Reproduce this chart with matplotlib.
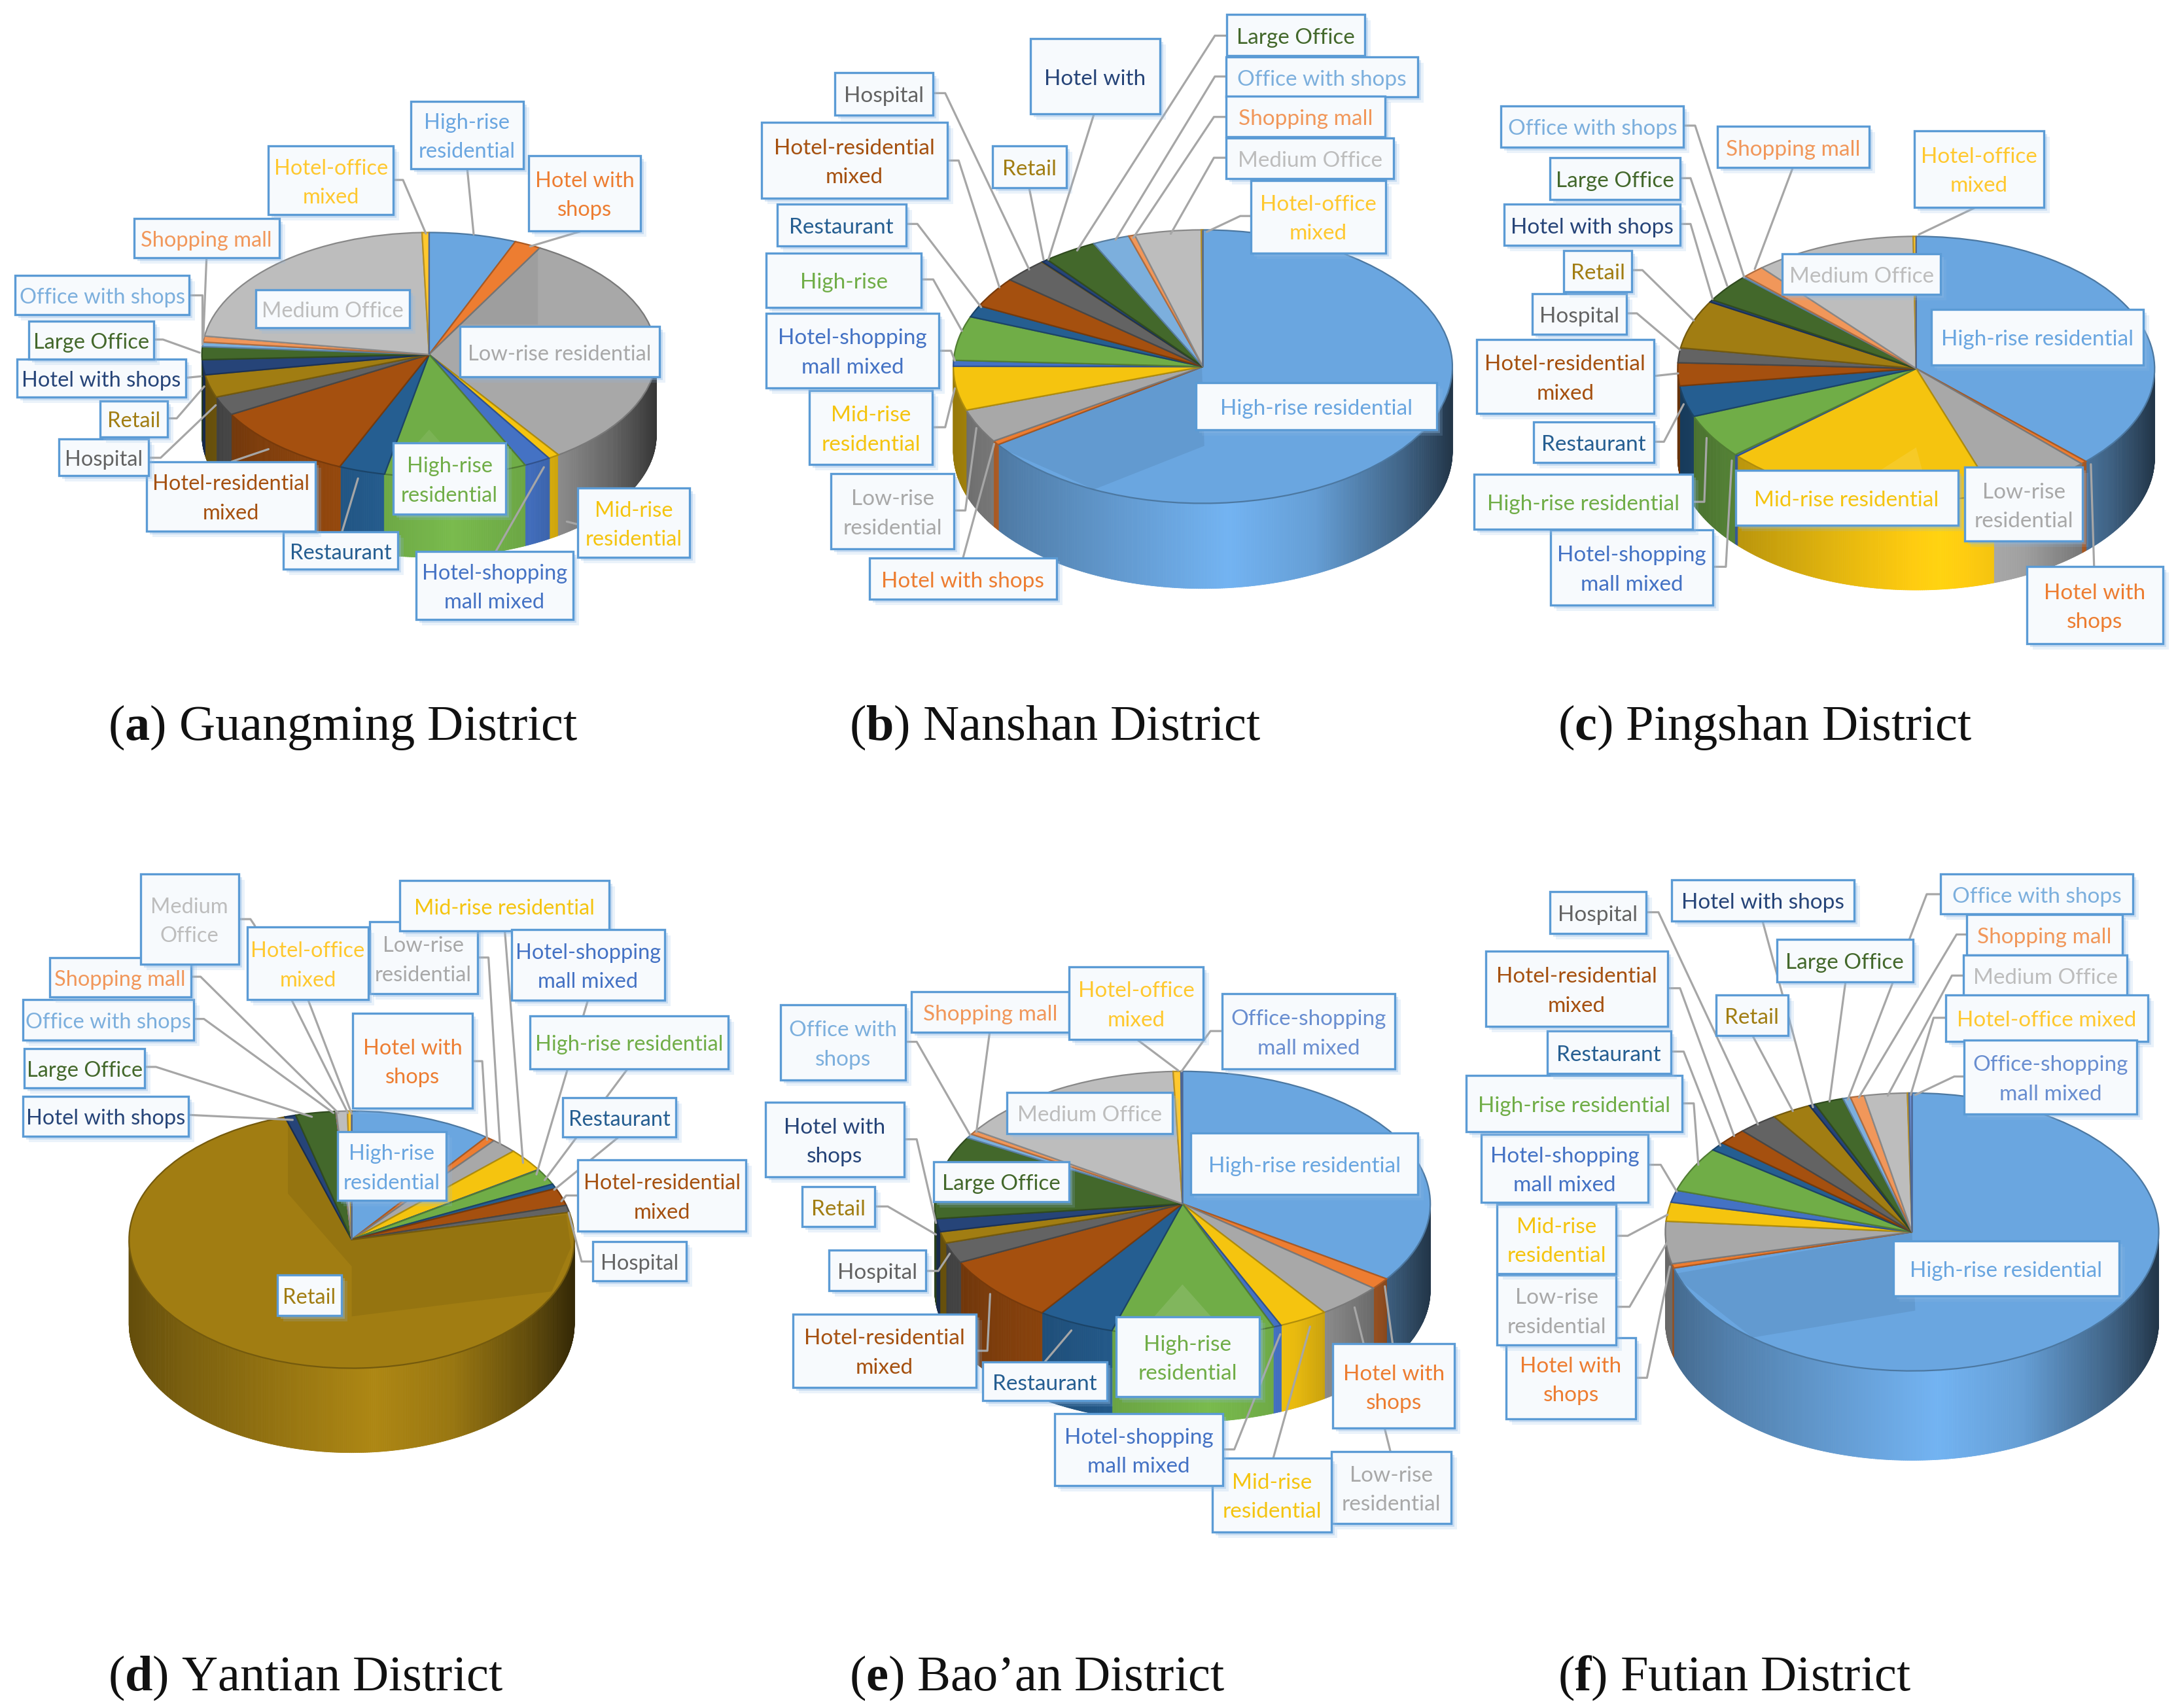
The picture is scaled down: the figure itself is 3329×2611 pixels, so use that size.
"""
Six 3D-look pie charts of building types per Shenzhen district, with callout
labels. Coordinates in the layout tables are read from crops of the original,
so each panel carries its own crop offset and x/y scale.
"""

import numpy as np
import matplotlib
matplotlib.use("Agg")
import matplotlib.pyplot as plt
from matplotlib.collections import PolyCollection
from matplotlib.colors import to_rgb
from matplotlib.patches import Ellipse, Polygon, Rectangle

W, H = 3329, 2611

plt.rcParams['mathtext.fontset'] = 'custom'
plt.rcParams['mathtext.bf'] = 'Liberation Serif:bold'
plt.rcParams['mathtext.rm'] = 'Liberation Serif'

# ---------------------------------------------------------------
# DATA
# ---------------------------------------------------------------
categories = ['High-rise residential', 'Hotel with shops', 'Low-rise residential',
              'Mid-rise residential', 'Hotel-shopping mall mixed', 'High-rise residential 2',
              'Restaurant', 'Hotel-residential mixed', 'Hospital', 'Retail',
              'Hotel with shops 2', 'Large Office', 'Office with shops', 'Shopping mall',
              'Medium Office', 'Hotel-office mixed', 'Office-shopping mall mixed']

colors = ['#6AA6E0', '#ED7D31', '#A8A8A8', '#F5C40F', '#4472C4', '#70AD47',
          '#255E91', '#A5500F', '#636363', '#A17D12', '#264478', '#43682B',
          '#7CAFDD', '#F1975A', '#BDBDBD', '#FFC82E', '#698ED0']

guangming = [6.2, 1.9, 32.3, 0.8, 1.9, 10.1, 3.3, 10.4, 2.5, 3.0, 2.0, 1.7, 0.6, 0.8, 22.1, 0.5, 0.0]
nanshan = [65.3, 0.5, 4.0, 5.2, 0.7, 5.2, 1.4, 3.6, 2.9, 0.05, 0.4, 3.5, 2.4, 0.4, 4.3, 0.1, 0.0]
pingshan = [37.4, 0.4, 6.9, 18.8, 0.2, 5.4, 3.8, 2.8, 1.8, 5.9, 0.3, 3.4, 0.2, 1.5, 11.0, 0.2, 0.0]
yantian = [10.3, 0.7, 1.9, 2.9, 0.05, 2.0, 0.6, 2.2, 0.9, 73.4, 0.8, 2.9, 0.02, 0.02, 0.8, 0.3, 0.0]
baoan = [34.6, 1.4, 4.3, 3.2, 0.5, 10.6, 5.0, 8.1, 2.5, 1.4, 1.6, 10.1, 0.5, 0.5, 15.1, 0.5, 0.1]
futian = [70.6, 0.5, 4.9, 2.2, 1.4, 5.2, 1.0, 1.9, 2.6, 2.6, 0.4, 1.9, 0.5, 0.9, 2.8, 0.1, 0.2]

# ---------------------------------------------------------------
# LAYOUT (crop coordinates)
# ---------------------------------------------------------------
# each label: category index, text, box (x0, y0, x1, y1), leader polyline or None
labels_a = [
    (0, 'High-rise\nresidential', (895, 95, 1140, 275), [(1018, 275), (1032, 450)]),
    (1, 'Hotel with\nshops', (1152, 240, 1395, 440), [(1270, 440), (1155, 482)]),
    (2, 'Low-rise residential', (1002, 695, 1437, 830), None),
    (3, 'Mid-rise\nresidential', (1258, 1125, 1503, 1310), [(1258, 1222), (1235, 1215)]),
    (4, 'Hotel-shopping\nmall mixed', (907, 1295, 1248, 1475), [(1080, 1295), (1185, 1070)]),
    (5, 'High-rise\nresidential', (857, 1005, 1102, 1195), None),
    (6, 'Restaurant', (617, 1243, 867, 1342), [(745, 1243), (780, 1100)]),
    (7, 'Hotel-residential\nmixed', (320, 1055, 687, 1240), [(505, 1055), (585, 1022)]),
    (8, 'Hospital', (128, 995, 323, 1092), [(323, 1045), (350, 1045), (470, 905)]),
    (9, 'Retail', (218, 893, 365, 990), [(365, 940), (385, 940), (445, 855)]),
    (10, 'Hotel with shops', (37, 782, 405, 883), [(405, 832), (438, 828)]),
    (11, 'Large Office', (63, 682, 335, 782), [(335, 730), (355, 730), (435, 765)]),
    (12, 'Office with shops', (33, 560, 412, 664), [(412, 612), (440, 612), (440, 742)]),
    (13, 'Shopping mall', (292, 408, 608, 512), [(450, 512), (443, 725)]),
    (14, 'Medium Office', (558, 597, 892, 698), None),
    (15, 'Hotel-office\nmixed', (585, 215, 857, 398), [(857, 305), (878, 305), (928, 448)]),
]
labels_b = [
    (0, 'High-rise residential', (992, 965, 1495, 1085), None),
    (1, 'Hotel with shops', (312, 1408, 702, 1512), [(507, 1408), (572, 1120)]),
    (2, 'Low-rise\nresidential', (232, 1195, 488, 1385), [(488, 1288), (512, 1288), (535, 1080)]),
    (3, 'Mid-rise\nresidential', (187, 985, 443, 1172), [(443, 1078), (470, 1078), (490, 980)]),
    (4, 'Hotel-shopping\nmall mixed', (97, 790, 457, 978), [(457, 885), (482, 885), (490, 910)]),
    (5, 'High-rise', (97, 638, 420, 775), [(420, 705), (445, 705), (505, 835)]),
    (6, 'Restaurant', (120, 515, 388, 620), [(388, 565), (412, 565), (545, 775)]),
    (7, 'Hotel-residential\nmixed', (87, 308, 475, 500), [(475, 405), (498, 405), (583, 725)]),
    (8, 'Hospital', (240, 183, 445, 290), [(445, 235), (470, 235), (645, 680)]),
    (9, 'Retail', (568, 368, 722, 474), [(645, 474), (675, 655)]),
    (10, 'Hotel with', (647, 97, 917, 288), [(780, 288), (685, 655)]),
    (11, 'Large Office', (1057, 37, 1345, 140), [(1057, 90), (1032, 90), (745, 632)]),
    (12, 'Office with shops', (1055, 143, 1455, 245), [(1055, 193), (1032, 193), (825, 605)]),
    (13, 'Shopping mall', (1055, 243, 1387, 345), [(1055, 295), (1030, 295), (862, 600)]),
    (14, 'Medium Office', (1055, 348, 1405, 450), [(1055, 398), (1030, 398), (940, 590)]),
    (15, 'Hotel-office\nmixed', (1107, 455, 1388, 638), [(1107, 545), (1085, 545), (1015, 585)]),
]
labels_c = [
    (0, 'High-rise residential', (1030, 597, 1493, 745), None),
    (1, 'Hotel with\nshops', (1238, 1283, 1535, 1488), [(1385, 1283), (1378, 1010)]),
    (2, 'Low-rise\nresidential', (1103, 1018, 1360, 1215), None),
    (3, 'Mid-rise residential', (603, 1027, 1088, 1172), None),
    (4, 'Hotel-shopping\nmall mixed', (200, 1185, 553, 1385), [(553, 1283), (582, 1283), (595, 1000)]),
    (5, 'High-rise residential', (33, 1037, 510, 1183), [(510, 1110), (535, 1110), (540, 940)]),
    (6, 'Restaurant', (163, 897, 425, 1005), [(425, 950), (447, 950), (490, 850)]),
    (7, 'Hotel-residential\nmixed', (38, 678, 425, 875), [(425, 775), (478, 768)]),
    (8, 'Hospital', (160, 555, 365, 663), [(365, 608), (388, 608), (482, 705)]),
    (9, 'Retail', (228, 440, 377, 550), [(377, 493), (400, 493), (512, 627)]),
    (10, 'Hotel with shops', (98, 317, 482, 427), [(482, 370), (505, 370), (553, 570)]),
    (11, 'Large Office', (198, 193, 482, 305), [(482, 248), (505, 248), (585, 535)]),
    (12, 'Office with shops', (92, 55, 490, 165), [(490, 108), (515, 108), (622, 512)]),
    (13, 'Shopping mall', (563, 110, 895, 220), [(728, 220), (645, 490)]),
    (14, 'Medium Office', (705, 450, 1050, 558), None),
    (15, 'Hotel-office\nmixed', (993, 122, 1275, 325), [(1128, 325), (1003, 398)]),
]
labels_d = [
    (0, 'High-rise\nresidential', (703, 698, 930, 878), None),
    (1, 'Hotel with\nshops', (735, 390, 985, 637), [(985, 515), (1005, 515), (1015, 720)]),
    (2, 'Low-rise\nresidential', (770, 152, 995, 340), [(995, 245), (1018, 245), (1042, 735)]),
    (3, 'Mid-rise residential', (833, 45, 1270, 175), [(1052, 175), (1090, 780)]),
    (4, 'Hotel-shopping\nmall mixed', (1066, 172, 1385, 357), [(1225, 357), (1118, 810)]),
    (5, 'High-rise residential', (1105, 397, 1517, 535), [(1308, 535), (1135, 825)]),
    (6, 'Restaurant', (1173, 610, 1408, 712), [(1290, 712), (1155, 850)]),
    (7, 'Hotel-residential\nmixed', (1204, 772, 1555, 958), [(1204, 865), (1180, 865), (1170, 880)]),
    (8, 'Hospital', (1235, 985, 1430, 1087), [(1235, 1037), (1212, 1037), (1185, 910)]),
    (9, 'Retail', (578, 1072, 712, 1178), None),
    (10, 'Hotel with shops', (48, 607, 393, 710), [(393, 655), (610, 668)]),
    (11, 'Large Office', (50, 483, 302, 585), [(302, 530), (325, 530), (650, 660)]),
    (12, 'Office with shops', (48, 355, 403, 460), [(403, 405), (425, 405), (695, 650)]),
    (13, 'Shopping mall', (103, 245, 398, 347), [(398, 295), (418, 295), (705, 650)]),
    (14, 'Medium\nOffice', (293, 28, 497, 262), [(497, 145), (522, 145), (530, 160), (725, 650)]),
    (15, 'Hotel-office\nmixed', (515, 165, 768, 355), [(642, 355), (733, 652)]),
]
labels_e = [
    (0, 'High-rise residential', (955, 480, 1450, 640), None),
    (1, 'Hotel with\nshops', (1265, 1030, 1530, 1250), [(1395, 1030), (1378, 880)]),
    (2, 'Low-rise\nresidential', (1262, 1310, 1522, 1498), [(1390, 1310), (1312, 935)]),
    (3, 'Mid-rise\nresidential', (1002, 1327, 1262, 1520), [(1135, 1327), (1215, 985)]),
    (4, 'Hotel-shopping\nmall mixed', (658, 1212, 1025, 1400), [(1025, 1305), (1050, 1305), (1150, 1005)]),
    (5, 'High-rise\nresidential', (792, 960, 1105, 1168), None),
    (6, 'Restaurant', (502, 1077, 772, 1178), [(637, 1077), (695, 995)]),
    (7, 'Hotel-residential\nmixed', (88, 952, 487, 1143), [(487, 1048), (512, 1048), (518, 900)]),
    (8, 'Hospital', (167, 785, 378, 892), [(378, 840), (405, 840), (430, 795)]),
    (9, 'Retail', (108, 620, 267, 725), [(267, 672), (295, 672), (400, 745)]),
    (10, 'Hotel with\nshops', (28, 400, 330, 595), [(330, 497), (358, 497), (400, 715)]),
    (11, 'Large Office', (395, 555, 690, 660), None),
    (12, 'Office with\nshops', (62, 147, 333, 342), [(333, 243), (358, 243), (475, 487)]),
    (13, 'Shopping mall', (347, 112, 690, 218), [(517, 218), (488, 478)]),
    (14, 'Medium Office', (555, 375, 915, 482), None),
    (15, 'Hotel-office\nmixed', (690, 47, 982, 237), [(838, 237), (928, 318)]),
    (16, 'Office-shopping\nmall mixed', (1024, 118, 1400, 313), [(1024, 215), (998, 215), (935, 320)]),
]
labels_f = [
    (0, 'High-rise residential', (947, 983, 1440, 1127), None),
    (1, 'Hotel with\nshops', (103, 1235, 385, 1447), [(385, 1340), (410, 1340), (460, 1050)]),
    (2, 'Low-rise\nresidential', (83, 1072, 343, 1255), [(343, 1155), (372, 1155), (455, 985)]),
    (3, 'Mid-rise\nresidential', (83, 888, 343, 1068), [(343, 970), (368, 970), (455, 915)]),
    (4, 'Hotel-shopping\nmall mixed', (48, 705, 413, 883), [(413, 785), (440, 785), (475, 855)]),
    (5, 'High-rise residential', (15, 553, 487, 698), [(487, 625), (512, 625), (522, 785)]),
    (6, 'Restaurant', (192, 437, 462, 547), [(462, 490), (490, 490), (570, 735)]),
    (7, 'Hotel-residential\nmixed', (58, 228, 455, 425), [(455, 325), (482, 325), (600, 710)]),
    (8, 'Hospital', (198, 73, 408, 183), [(408, 127), (435, 127), (652, 680)]),
    (9, 'Retail', (560, 342, 717, 448), [(640, 448), (728, 645)]),
    (10, 'Hotel with shops', (463, 42, 862, 150), [(662, 150), (772, 635)]),
    (11, 'Large Office', (693, 198, 990, 308), [(843, 308), (808, 620)]),
    (12, 'Office with shops', (1050, 27, 1470, 132), [(1050, 80), (1020, 80), (848, 615)]),
    (13, 'Shopping mall', (1107, 133, 1447, 238), [(1107, 185), (1085, 185), (872, 610)]),
    (14, 'Medium Office', (1100, 238, 1457, 345), [(1100, 292), (1075, 292), (935, 605)]),
    (15, 'Hotel-office mixed', (1062, 343, 1502, 463), [(1062, 402), (1035, 402), (985, 603)]),
    (16, 'Office-shopping\nmall mixed', (1102, 460, 1478, 653), [(1102, 555), (1080, 555), (995, 603)]),
]

# overlay polygons for the lighting on the top face: (points, colour, alpha)
light_a = [([(935, 770), (1172, 490), (1172, 690), (1000, 690)], 'black', 0.06),
           ([(935, 970), (870, 1060), (1000, 1060)], 'white', 0.08)]
light_b = [([(1005, 925), (575, 1125), (780, 1235), (1010, 1125)], 'black', 0.07)]
light_c = [([(997, 965), (920, 1025), (1010, 1025)], 'white', 0.10)]
light_d = [([(600, 670), (600, 860), (733, 1050), (733, 1180), (1150, 1115),
             (1190, 1000), (1180, 915), (733, 980)], 'black', 0.07)]
light_e = [([(937, 875), (860, 980), (1015, 980)], 'white', 0.12)]
light_f = [([(988, 960), (465, 1070), (640, 1235), (995, 1165)], 'black', 0.07)]

panels = [
    dict(values=guangming, labels=labels_a, light=light_a, crop=(0, 100, 1568 / 1100, 1568 / 900),
         pie=(935, 770, 495, 325, 215), fs=23.5),
    dict(values=nanshan, labels=labels_b, light=light_b, crop=(1100, 0, 1568 / 1150, 1568 / 950),
         pie=(1007, 925, 520, 345, 215), fs=24.0),
    dict(values=pingshan, labels=labels_c, light=light_c, crop=(2230, 130, 1568 / 1099, 1568 / 900),
         pie=(997, 755, 520, 352, 238), fs=24.0),
    dict(values=yantian, labels=labels_d, light=light_d, crop=(0, 1320, 1568 / 1150, 1568 / 920),
         pie=(733, 980, 464, 335, 220), fs=23.5),
    dict(values=baoan, labels=labels_e, light=light_e, crop=(1150, 1450, 1568 / 1100, 1568 / 920),
         pie=(937, 665, 540, 345, 225), fs=24.0),
    dict(values=futian, labels=labels_f, light=light_f, crop=(2230, 1320, 1568 / 1099, 1568 / 920),
         pie=(988, 960, 538, 362, 233), fs=24.0),
]

captions = [('a', 'Guangming District', 165, 1112), ('b', 'Nanshan District', 1298, 1112),
            ('c', 'Pingshan District', 2381, 1112), ('d', 'Yantian District', 165, 2565),
            ('e', "Bao\u2019an District", 1298, 2565), ('f', 'Futian District', 2381, 2565)]


def shade(color, factor):
    return tuple(np.clip(np.array(to_rgb(color)) * factor, 0, 1))


def draw_pie(fig, panel):
    ox, oy, sx, sy = panel['crop']
    zx, zy, za, zb, zwall = panel['pie']
    cx, cy, a, b = ox + zx / sx, oy + zy / sy, za / sx, zb / sy
    wall = zwall / sy / b
    pad = 1.03

    left = (cx - pad * a) / W
    bottom = 1 - (cy + (pad + wall) * b) / H
    ax = fig.add_axes([left, bottom, 2 * pad * a / W, (2 * pad + wall) * b / H], zorder=1)

    values = np.array(panel['values'], dtype=float)
    wedges, _ = ax.pie(values, colors=colors, startangle=90, counterclock=False)
    for w, c in zip(wedges, colors):
        w.set_edgecolor(shade(c, 0.72))
        w.set_linewidth(1.6)
        w.set_zorder(3)
    ax.set_aspect('auto')
    ax.set_xlim(-pad, pad)
    ax.set_ylim(-pad - wall, pad)

    # front wall built from thin vertical strips, shaded by x position
    edges = np.cumsum(values) / values.sum() * 360
    ang = np.arange(90, 270.01, 0.5)
    verts, faces = [], []
    for t0, t1 in zip(ang[:-1], ang[1:]):
        idx = min(np.searchsorted(edges, (t0 + t1) / 2), len(values) - 1)
        x0, x1 = np.sin(np.radians([t0, t1]))
        y0, y1 = np.cos(np.radians([t0, t1]))
        verts.append([(x0, y0), (x1, y1), (x1, y1 - wall), (x0, y0 - wall)])
        f = np.interp((x0 + x1) / 2, [-1, -0.75, -0.35, 0.1, 0.45, 0.8, 1],
                      [0.62, 0.76, 0.92, 1.08, 0.95, 0.6, 0.32])
        faces.append(shade(colors[idx], f))
    ax.add_collection(PolyCollection(verts, facecolors=faces, edgecolors=faces,
                                     linewidths=0.6, zorder=2))
    return ax


def draw_callouts(ov, panel):
    ox, oy, sx, sy = panel['crop']
    zx, zy, za, zb, _ = panel['pie']
    tx = lambda p: (ox + p[0] / sx, oy + p[1] / sy)

    clip_center = tx((zx, zy))
    for pts, col, alpha in panel['light']:
        poly = Polygon([tx(p) for p in pts], closed=True, facecolor=col, alpha=alpha,
                       edgecolor='none', zorder=1)
        ov.add_patch(poly)
        poly.set_clip_path(Ellipse(clip_center, 2 * za / sx, 2 * zb / sy, transform=ov.transData))

    for _, _, _, leader in panel['labels']:
        if leader:
            xs, ys = zip(*[tx(p) for p in leader])
            ov.plot(xs, ys, color='#A6A6A6', lw=2.3, zorder=2, solid_capstyle='round')

    z = 3
    for idx, text, box, _ in panel['labels']:
        x0, y0 = tx(box[:2])
        x1, y1 = tx(box[2:])
        for off, alpha in ((9, 0.18), (5, 0.35)):
            ov.add_patch(Rectangle((x0 + off, y0 + off), x1 - x0, y1 - y0, facecolor='#8DB8E4',
                                   edgecolor='none', alpha=alpha, zorder=z))
        ov.add_patch(Rectangle((x0, y0), x1 - x0, y1 - y0, facecolor='#F7FAFD',
                               edgecolor='#5B9BD5', lw=2.4, zorder=z + 0.1))
        # the text sits a little below the box centre in the original
        ov.text((x0 + x1) / 2, (y0 + y1) / 2 + 4, text, color=colors[idx], ha='center', va='center',
                family='Lato', fontsize=panel['fs'], linespacing=1.6, zorder=z + 0.2)
        z += 1


# ---------------------------------------------------------------
# PLOT
# ---------------------------------------------------------------
fig = plt.figure(figsize=(W / 100, H / 100), dpi=100, facecolor='white')

for panel in panels:
    draw_pie(fig, panel)

ov = fig.add_axes([0, 0, 1, 1], zorder=2)
ov.set_xlim(0, W)
ov.set_ylim(H, 0)
ov.axis('off')
ov.patch.set_alpha(0)

for panel in panels:
    draw_callouts(ov, panel)

for letter, name, x, y in captions:
    ov.text(x, y, r'($\mathbf{%s}$) %s' % (letter, name), family='Liberation Serif',
            fontsize=55, color='#111111', ha='left', va='center', zorder=200)

fig.savefig('out.png', dpi=100)
plt.close(fig)
